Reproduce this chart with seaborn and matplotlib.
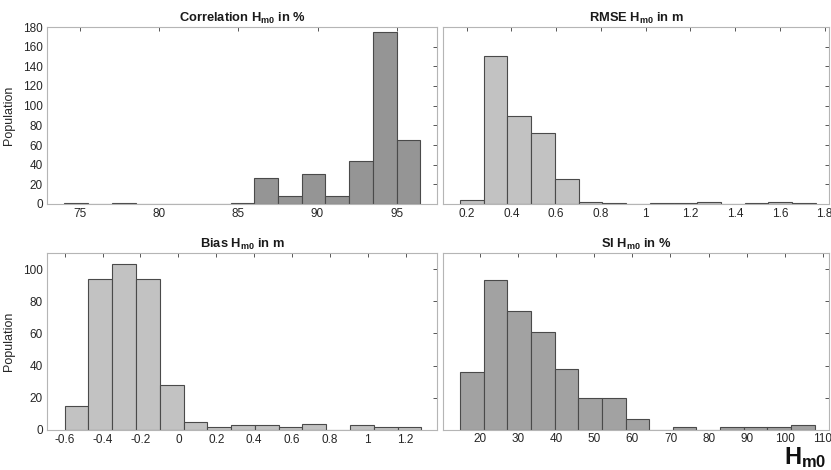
import numpy as np
import matplotlib
matplotlib.use("Agg")
import matplotlib.pyplot as plt
import seaborn as sns

# ---- data ----
corr_edges = [74.0, 75.5, 77.0, 78.5, 80.0, 81.5, 83.0, 84.5, 86.0, 87.5, 89.0, 90.5, 92.0, 93.5, 95.0, 96.5]
corr_counts = [1, 0, 1, 0, 0, 0, 0, 1, 26, 8, 31, 8, 44, 175, 65]

rmse_edges = [0.170, 0.276, 0.382, 0.488, 0.594, 0.701, 0.807, 0.913, 1.019, 1.125, 1.231, 1.337, 1.443, 1.549, 1.655, 1.762]
rmse_counts = [4, 151, 89, 72, 25, 2, 1, 0, 1, 1, 2, 0, 1, 2, 1]

bias_edges = [-0.600, -0.4745, -0.349, -0.2235, -0.098, 0.0275, 0.153, 0.2785, 0.404, 0.5295, 0.655, 0.7805, 0.906, 1.0315, 1.157, 1.2825]
bias_counts = [15, 94, 103, 94, 28, 5, 2, 3, 3, 2, 4, 0, 3, 2, 2]

si_edges = [14.8, 21.0, 27.2, 33.4, 39.6, 45.8, 52.0, 58.2, 64.4, 70.6, 76.8, 83.0, 89.2, 95.4, 101.6, 107.8]
si_counts = [36, 93, 74, 61, 38, 20, 20, 7, 0, 2, 0, 2, 2, 2, 3]

titles = [r'Correlation $\mathbf{H_{m0}}$ in %', r'RMSE $\mathbf{H_{m0}}$ in m',
          r'Bias $\mathbf{H_{m0}}$ in m', r'SI $\mathbf{H_{m0}}$ in %']

corr_xticks = [75, 80, 85, 90, 95]
rmse_xticks = [0.2, 0.4, 0.6, 0.8, 1.0, 1.2, 1.4, 1.6, 1.8]
rmse_xlabels = ['0.2', '0.4', '0.6', '0.8', '1', '1.2', '1.4', '1.6', '1.8']
bias_xticks = [-0.6, -0.4, -0.2, 0.0, 0.2, 0.4, 0.6, 0.8, 1.0, 1.2]
bias_xlabels = ['-0.6', '-0.4', '-0.2', '0', '0.2', '0.4', '0.6', '0.8', '1', '1.2']
si_xticks = [20, 30, 40, 50, 60, 70, 80, 90, 100, 110]
top_yticks = [0, 20, 40, 60, 80, 100, 120, 140, 160, 180]
bot_yticks = [0, 20, 40, 60, 80, 100]

sns.set_theme(style='white')
plt.rcParams['font.family'] = ['Liberation Sans', 'DejaVu Sans']
plt.rcParams['mathtext.fontset'] = 'custom'
plt.rcParams['mathtext.rm'] = 'Liberation Sans'
plt.rcParams['mathtext.bf'] = 'Liberation Sans:bold'
plt.rcParams['mathtext.it'] = 'Liberation Sans:italic'

fig = plt.figure(figsize=(8.31, 4.70), dpi=100)

W, H = 831, 470
def rect(l, t, r, b):
    return [l / W, 1 - b / H, (r - l) / W, (b - t) / H]

light = '#c2c2c2'
edge = '#4a4a4a'

specs = [
    (rect(47, 27, 437, 204), corr_edges, corr_counts, '#959595', (72.9, 97.55), (0, 180), corr_xticks, [str(t) for t in corr_xticks], top_yticks, True, 3),
    (rect(443, 27, 829, 204), rmse_edges, rmse_counts, light, (0.094, 1.82), (0, 180), rmse_xticks, rmse_xlabels, top_yticks, False, 3),
    (rect(47, 253, 437, 430), bias_edges, bias_counts, light, (-0.693, 1.365), (0, 110), bias_xticks, bias_xlabels, bot_yticks, True, 3),
    (rect(443, 253, 829, 430), si_edges, si_counts, '#a2a2a2', (10.3, 111.6), (0, 110), si_xticks, [str(t) for t in si_xticks], bot_yticks, False, 2),
]

for i, (r, edges, counts, col, xl, yl, xt, xtl, yt, left, pad) in enumerate(specs):
    ax = fig.add_axes(r)
    e = np.asarray(edges)
    centers = (e[:-1] + e[1:]) / 2
    sns.histplot(x=centers, weights=counts, bins=edges, ax=ax, color=col,
                 edgecolor=edge, linewidth=0.8, alpha=1.0)
    ax.set_xlim(*xl)
    ax.set_ylim(*yl)
    ax.set_xticks(xt)
    ax.set_xticklabels(xtl)
    ax.set_yticks(yt)
    if left:
        ax.set_ylabel('Population', fontsize=9, color='#262626', labelpad=6)
    else:
        ax.set_ylabel('')
        ax.set_yticklabels([])
    ax.set_xlabel('')
    ax.set_title(titles[i], fontsize=9.3, fontweight='bold', color='#1a1a1a', pad=4)
    ax.tick_params(direction='in', length=3, width=0.7, color='#555555',
                   labelsize=8.5, labelcolor='#262626', top=True, right=True, pad=pad)
    for s in ax.spines.values():
        s.set_visible(True)
        s.set_color('#b5b5b5')
        s.set_linewidth(0.8)

fig.text(0.995, 0.0, r'$\mathbf{H_{m0}}$', ha='right', va='bottom', fontsize=17, color='#111111')

fig.savefig('out.png', dpi=100)
